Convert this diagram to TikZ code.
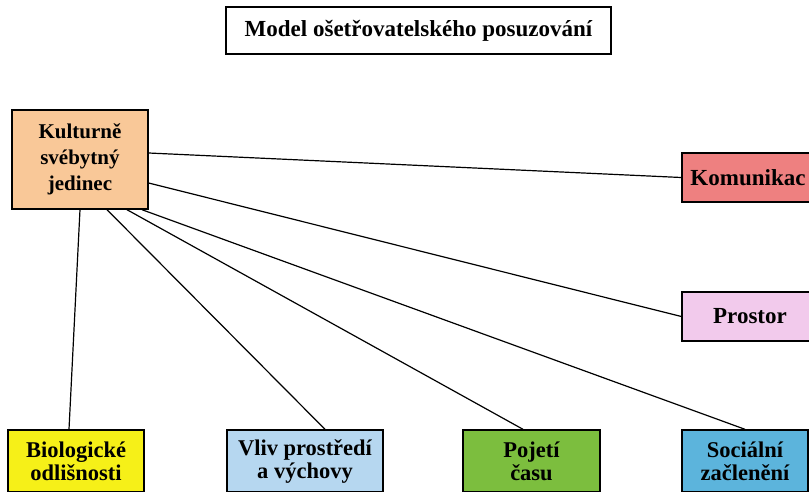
\documentclass[tikz,border=0pt]{standalone}
\usepackage{fontspec}
\setmainfont{Liberation Serif}
\definecolor{kultcol}{RGB}{249,200,152}
\definecolor{komcol}{RGB}{238,128,128}
\definecolor{procol}{RGB}{242,202,236}
\definecolor{biocol}{RGB}{246,240,24}
\definecolor{vlivcol}{RGB}{182,215,240}
\definecolor{pojcol}{RGB}{124,190,62}
\definecolor{soccol}{RGB}{92,180,220}
\begin{document}
\begin{tikzpicture}[x=1pt, y=-1pt,
    box/.style ={draw, line width=1.4pt, align=center, inner sep=0pt,
      font=\bfseries\fontsize{21}{26}\selectfont},
    side/.style ={box, minimum height=49pt, font=\bfseries\fontsize{23}{26}\selectfont},
    low/.style ={box, minimum height=62pt, font=\bfseries\fontsize{22.5}{23}\selectfont},
    link/.style ={line width=1.2pt}]
    \useasboundingbox (0,0) rectangle (809,491);
    \clip (0,0) rectangle (809,491);
    \node[box, minimum width=385pt, minimum height=47pt, font=\bfseries\fontsize{23}{26}\selectfont] (title) at (418.5,30.5) {Model ošetřovatelského posuzování};
    \node[box, fill=kultcol, minimum width=136pt, minimum height=99pt] (kult) at (80,159.5) {Kulturně\\svébytný\\jedinec};
    \node[side, fill=komcol, minimum width=132pt] (kom) at (748,177.5) {Komunikac};
    \node[side, fill=procol, minimum width=136pt] (pro) at (750,316.5) {Prostor};
    \node[low, fill=biocol, minimum width=136pt] (bio) at (76,461) {Biologické\\odlišnosti};
    \node[low, fill=vlivcol, minimum width=156pt] (vliv) at (305,461) {Vliv prostředí\\a výchovy};
    \node[low, fill=pojcol, minimum width=137pt] (poj) at (531.5,461) {Pojetí\\času};
    \node[low, fill=soccol, minimum width=126pt] (soc) at (745,461) {Sociální\\začlenění};
    \draw[link] ([yshift=6.5pt]kult.east) -- (kom.west);
    \draw[link] ([yshift=-23.5pt]kult.east) -- (pro.west);
    \draw[link] (kult.south) -- ([xshift=-7pt]bio.north);
    \draw[link] ([xshift=27pt]kult.south) -- ([xshift=20pt]vliv.north);
    \draw[link] ([xshift=47pt]kult.south) -- ([xshift=-8.5pt]poj.north);
    \draw[link] ([xshift=62pt]kult.south) -- (soc.north);
\end{tikzpicture}
\end{document}
